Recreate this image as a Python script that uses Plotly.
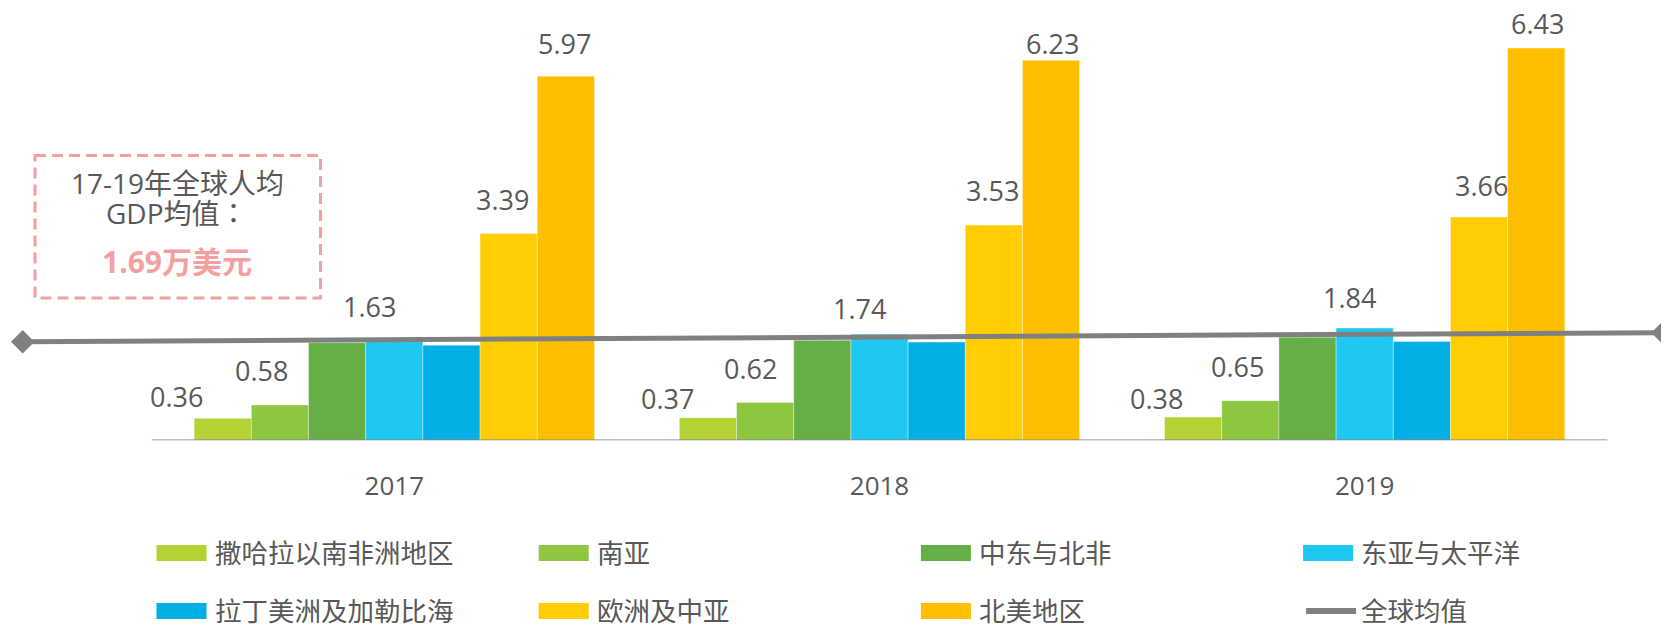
import plotly.graph_objects as go

# ---------------- data ----------------
years = ["2017", "2018", "2019"]
regions = ["撒哈拉以南非洲地区", "南亚", "中东与北非", "东亚与太平洋",
           "拉丁美洲及加勒比海", "欧洲及中亚", "北美地区"]
ssa = [0.36, 0.37, 0.38]
south_asia = [0.58, 0.62, 0.65]
mena = [1.60, 1.64, 1.69]
east_asia = [1.63, 1.74, 1.84]
latam = [1.56, 1.61, 1.62]
europe = [3.39, 3.53, 3.66]
north_america = [5.97, 6.23, 6.43]
series = [ssa, south_asia, mena, east_asia, latam, europe, north_america]
show_label = [True, True, False, True, False, True, True]
global_line_name = "全球均值"
global_line_ends = [1.616, 1.764]       # value of the world-average line at its left / right end
box_title = "17-19年全球人均"
box_sub = "GDP均值："
box_value = "1.69万美元"

# ---------------- style ----------------
colors = ["#B3D234", "#8DC63F", "#66AE46", "#1FC8F1", "#00AFE3", "#FFCD00", "#FEBF00"]
line_color = "#808080"
text_color = "#595959"
pink = "#F4A0A0"
FONT = "Open Sans, Noto Sans CJK SC, sans-serif"
FONT_TC = "Open Sans, Noto Sans CJK TC, sans-serif"
OFF = 8                  # page body margin
W, H = 1669 - OFF, 625 - OFF
BASE_PX = 440.3 - OFF    # pixel row of the value axis zero (figure coords)
PX_PER_UNIT = 61.0
X_LEFT, X_RIGHT = 151.7 - OFF, 1607.3 - OFF
CW = (X_RIGHT - X_LEFT) / 3
BARGAP = 0.175
LINE_L, LINE_R = 22.7 - OFF, 1663.0 - OFF
# label offsets (px) from top-centre of each bar: (dx, dy) indexed [series][year]
label_off = {
    0: [(-46, 22), (-40, 19), (-37, 19)],
    1: [(-18, 34), (-15, 34), (-13, 34)],
    3: [(-25, 34), (-20, 26), (-15, 31)],
    5: [(-6, 34), (-1, 34), (2, 32)],
    6: [(-1, 33), (1, 17), (1, 25)],
}

fig = go.Figure()
for name, vals, col in zip(regions, series, colors):
    fig.add_trace(go.Bar(
        x=years, y=vals, name=name,
        marker=dict(color=col, line=dict(color="rgba(255,255,255,0.35)", width=1)),
        showlegend=False, xaxis="x", yaxis="y"))

# world-average line on an overlaid full-width axis
fig.add_trace(go.Scatter(
    x=[0, 1], y=global_line_ends, mode="lines+markers", name=global_line_name,
    line=dict(color=line_color, width=5),
    marker=dict(symbol="diamond", size=18, color=line_color),
    xaxis="x2", yaxis="y", cliponaxis=False, showlegend=False))

annotations = []
n = len(series)
bw = (1 - BARGAP) / n
for si, vals in enumerate(series):
    if not show_label[si]:
        continue
    for yi, v in enumerate(vals):
        dx, dy = label_off[si][yi]
        annotations.append(dict(
            x=yi + (si - (n - 1) / 2) * bw, y=v, xref="x", yref="y",
            text=f"{v:.2f}", showarrow=False, xanchor="center", yanchor="middle",
            xshift=dx, yshift=dy, font=dict(family=FONT, size=27, color=text_color)))


def px(x):
    return (x - OFF) / W


def py(y):
    return 1 - (y - OFF) / H


# baseline of the category axis
shapes = [dict(type="line", xref="x", yref="y", x0=-0.5, x1=2.5, y0=0, y1=0,
               line=dict(color="#7F7F7F", width=1.5), layer="above")]

# ---- text box ----
shapes.append(dict(type="rect", xref="paper", yref="paper",
                   x0=px(35), x1=px(320.5), y0=py(155.5), y1=py(298),
                   line=dict(color=pink, width=3, dash="11px,6px"), fillcolor="rgba(0,0,0,0)"))
annotations += [
    dict(x=px(177), y=py(182.7), xref="paper", yref="paper", text=box_title, showarrow=False,
         xanchor="center", yanchor="middle", font=dict(family=FONT, size=28, color=text_color)),
    dict(x=px(177), y=py(213.3), xref="paper", yref="paper", text=box_sub, showarrow=False,
         xanchor="center", yanchor="middle", font=dict(family=FONT_TC, size=28, color=text_color)),
    dict(x=px(177), y=py(261.5), xref="paper", yref="paper", text=f"<b>{box_value}</b>", showarrow=False,
         xanchor="center", yanchor="middle", font=dict(family=FONT, size=30, color=pink)),
]

# ---- legend (manual, two rows of four) ----
leg_x0, leg_dx = 156.5, 382.2
leg_y0, leg_dy = 553.0, 58.0
items = list(zip(regions, colors)) + [(global_line_name, None)]
for i, (name, col) in enumerate(items):
    r, c = divmod(i, 4)
    x0 = leg_x0 + c * leg_dx
    yc = leg_y0 + r * leg_dy
    if col is not None:
        shapes.append(dict(type="rect", xref="paper", yref="paper",
                           x0=px(x0), x1=px(x0 + 50), y0=py(yc + 8), y1=py(yc - 8),
                           line=dict(width=0), fillcolor=col))
    else:
        shapes.append(dict(type="line", xref="paper", yref="paper",
                           x0=px(x0 + 3), x1=px(x0 + 53), y0=py(yc), y1=py(yc),
                           line=dict(color=line_color, width=6)))
    annotations.append(dict(x=px(x0 + 56), y=py(yc), xref="paper", yref="paper", text=name,
                            showarrow=False, xanchor="left", yanchor="middle",
                            font=dict(family=FONT, size=26.5, color=text_color)))

# axis ranges so that the plot spans the full figure width
x_r0 = -0.5 - X_LEFT / CW
x_r1 = 2.5 + (W - X_RIGHT) / CW
x2_r0 = -LINE_L / (LINE_R - LINE_L)
x2_r1 = x2_r0 + W / (LINE_R - LINE_L)

fig.update_layout(
    width=W, height=H, margin=dict(l=0, r=0, t=0, b=0),
    paper_bgcolor="white", plot_bgcolor="rgba(0,0,0,0)",
    barmode="group", bargap=BARGAP, bargroupgap=0,
    font=dict(family=FONT, color=text_color),
    xaxis=dict(type="category", domain=[0, 1], range=[x_r0, x_r1],
               showline=False, ticks="", showgrid=False, zeroline=False,
               tickfont=dict(family=FONT, size=26, color=text_color),
               ticklabelstandoff=28),
    xaxis2=dict(overlaying="x", range=[x2_r0, x2_r1], visible=False,
                showgrid=False, zeroline=False),
    yaxis=dict(domain=[(H - BASE_PX) / H, 1], range=[0, BASE_PX / PX_PER_UNIT], visible=False,
               showgrid=False, zeroline=False),
    shapes=shapes, annotations=annotations, showlegend=False,
)
fig.write_html("out.html")
